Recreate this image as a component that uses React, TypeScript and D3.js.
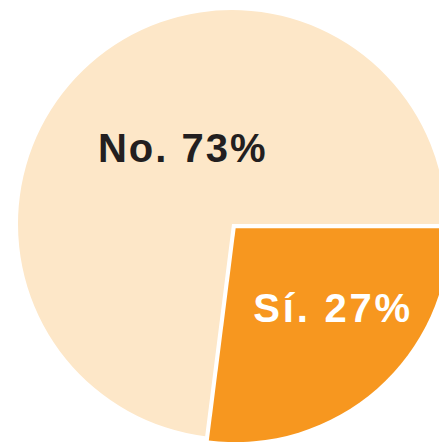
import React from "react";
import * as d3 from "d3";

const categories = ["Sí", "No"];
const values = [27, 73];
const colors = ["#F7971F", "#FDE7C8"];
const labelColors = ["#FFFFFF", "#231F20"];

const W = 439;
const H = 442;
const cx = 232;
const cy = 224;
const R = 214;
const explode = [5.5, 0];

export default function App() {
  const pie = d3
    .pie<number>()
    .sort(null)
    .startAngle(Math.PI / 2)
    .endAngle(Math.PI / 2 + 2 * Math.PI)(values);
  const arc = d3.arc<d3.PieArcDatum<number>>().innerRadius(0).outerRadius(R);
  const labelArcs = [
    { r: 140, dx: 8.5, dy: -7.3, ls: 2.8 },
    { r: 79, dx: 3, dy: -3, ls: 2 },
  ];
  return (
    <svg
      width={W}
      height={H}
      style={{ position: "absolute", left: 0, top: 0, display: "block" }}
    >
      <rect width={W} height={H} fill="#fff" />
      <g transform={`translate(${cx},${cy})`}>
        {pie.map((d, i) => {
          const mid = (d.startAngle + d.endAngle) / 2;
          const ox = Math.sin(mid) * explode[i];
          const oy = -Math.cos(mid) * explode[i];
          return (
            <path
              key={categories[i]}
              d={arc(d) || ""}
              fill={colors[i]}
              transform={`translate(${ox},${oy})`}
            />
          );
        })}
        {pie.map((d, i) => {
          const mid = (d.startAngle + d.endAngle) / 2;
          const la = labelArcs[i];
          const x = Math.sin(mid) * la.r + la.dx;
          const y = -Math.cos(mid) * la.r + la.dy;
          return (
            <text
              key={"l" + i}
              x={x}
              y={y}
              textAnchor="middle"
              fill={labelColors[i]}
              fontFamily="'Liberation Sans', Arial, sans-serif"
              fontWeight="bold"
              fontSize={40}
              letterSpacing={la.ls}
            >
              {`${categories[i]}. ${values[i]}%`}
            </text>
          );
        })}
      </g>
    </svg>
  );
}
